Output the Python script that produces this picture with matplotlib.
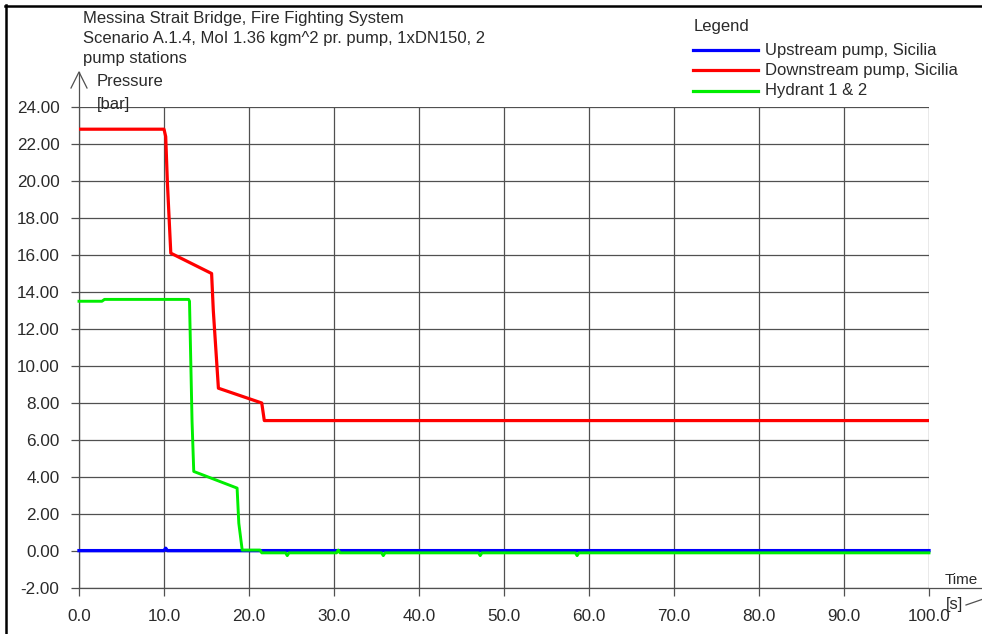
import matplotlib
matplotlib.use("Agg")
import matplotlib.pyplot as plt
from matplotlib.lines import Line2D

plt.rcParams['font.family'] = ['Liberation Sans', 'DejaVu Sans']

# ---- data ----
t_up = [0.0, 10.0, 10.2, 10.4, 100.0]
p_up = [0.02, 0.02, 0.15, 0.02, 0.02]

t_down = [0.0, 10.0, 10.2, 10.4, 10.8, 15.6, 15.8, 16.4, 21.5, 21.8, 100.0]
p_down = [22.8, 22.8, 22.4, 19.9, 16.1, 15.0, 13.0, 8.8, 8.0, 7.05, 7.05]

t_hyd = [0.0, 2.7, 3.0, 12.9, 13.0, 13.3, 13.5, 18.6, 18.8, 19.2, 21.3, 21.5,
         24.3, 24.5, 24.7, 30.3, 30.5, 30.7, 35.6, 35.8, 36.0, 47.0, 47.2, 47.4,
         58.4, 58.6, 58.8, 100.0]
p_hyd = [13.5, 13.5, 13.6, 13.6, 13.5, 7.0, 4.3, 3.4, 1.5, 0.05, 0.05, -0.1,
         -0.1, -0.25, -0.1, -0.1, 0.05, -0.1, -0.1, -0.25, -0.1, -0.1, -0.25, -0.1,
         -0.1, -0.25, -0.1, -0.1]

series_labels = ["Upstream pump, Sicilia", "Downstream pump, Sicilia", "Hydrant 1 & 2"]
x_ticks = [0, 10, 20, 30, 40, 50, 60, 70, 80, 90, 100]
x_ticklabels = ["0.0", "10.0", "20.0", "30.0", "40.0", "50.0", "60.0", "70.0", "80.0", "90.0", "100.0"]
y_ticks = [-2, 0, 2, 4, 6, 8, 10, 12, 14, 16, 18, 20, 22, 24]
y_ticklabels = ["%.2f" % v for v in y_ticks]
title_lines = ["Messina Strait Bridge, Fire Fighting System",
               "Scenario A.1.4, MoI 1.36 kgm^2 pr. pump, 1xDN150, 2",
               "pump stations"]

W, H = 982, 634
fig = plt.figure(figsize=(W / 100, H / 100), dpi=100)
fig.patch.set_facecolor('white')

def fx(px):
    return px / W

def fy(py):
    return 1 - py / H

TXT = '#2a2a2a'
GRID = '#505050'
FS = 12

# axes: x 0..100 -> px 79..929 ; y -2..24 -> px 588..107
ax = fig.add_axes([fx(79), fy(588), (929 - 79) / W, (588 - 107) / H])
ax.set_xlim(0, 100)
ax.set_ylim(-2, 24)
for s in ax.spines.values():
    s.set_visible(False)

ax.set_xticks(x_ticks)
ax.set_xticklabels(x_ticklabels)
ax.set_yticks(y_ticks)
ax.set_yticklabels(y_ticklabels)
ax.tick_params(axis='both', direction='out', length=5.8, width=0.9, color=GRID,
               labelsize=12.3, labelcolor=TXT)
ax.tick_params(axis='x', pad=9)
ax.tick_params(axis='y', pad=8.3)
ax.grid(True, color=GRID, linewidth=0.9)
ax.set_axisbelow(True)

# axis lines with arrows
ax.plot([0, 0], [0, (588 - 72) / 481], transform=ax.transAxes, color=GRID,
        lw=0.9, clip_on=False)
ax.plot([-8 / 850, 0, 8 / 850], [(588 - 88) / 481, (588 - 72) / 481, (588 - 88) / 481],
        transform=ax.transAxes, color=GRID, lw=0.9, clip_on=False)
ax.plot([0, (990 - 79) / 850], [0, 0], transform=ax.transAxes, color=GRID,
        lw=0.9, clip_on=False)
ax.plot([(966 - 79) / 850, (992 - 79) / 850], [(588 - 605) / 481, (588 - 596) / 481],
        transform=ax.transAxes, color=GRID, lw=0.9, clip_on=False)

# data
ax.plot(t_up, p_up, color='#0000ff', lw=2.4, label=series_labels[0], clip_on=False)
ax.plot(t_down, p_down, color='#ff0000', lw=2.3, label=series_labels[1])
ax.plot(t_hyd, p_hyd, color='#00ee00', lw=2.1, label=series_labels[2], clip_on=False)

# legend (manual, to match layout)
colors = ['#0000ff', '#ff0000', '#00ee00']
fig.text(fx(694), fy(26), "Legend", fontsize=FS, color=TXT, va='center', ha='left')
for i, (lab, c) in enumerate(zip(series_labels, colors)):
    yy = 50 + 20.3 * i
    fig.add_artist(Line2D([fx(693), fx(758)], [fy(yy), fy(yy)], color=c, lw=2.3))
    fig.text(fx(765), fy(yy), lab, fontsize=FS, color=TXT, va='center', ha='left')

# title
for i, line in enumerate(title_lines):
    fig.text(fx(83), fy(18 + 20 * i), line, fontsize=FS, color=TXT, va='center', ha='left')

# axis labels
fig.text(fx(97), fy(82), "Pressure", fontsize=FS, color=TXT, va='center', ha='left')
fig.text(fx(97), fy(104), "[bar]", fontsize=FS, color=TXT, va='center', ha='left')
fig.text(fx(945), fy(580), "Time", fontsize=11, color=TXT, va='center', ha='left')
fig.text(fx(946), fy(604), "[s]", fontsize=FS, color=TXT, va='center', ha='left')

# image frame (left and top)
fig.add_artist(Line2D([fx(6), fx(6)], [fy(5), fy(634)], color='black', lw=1.8))
fig.add_artist(Line2D([fx(5), fx(982)], [fy(5.5), fy(5.5)], color='black', lw=1.8))

fig.savefig("out.png", dpi=100)
